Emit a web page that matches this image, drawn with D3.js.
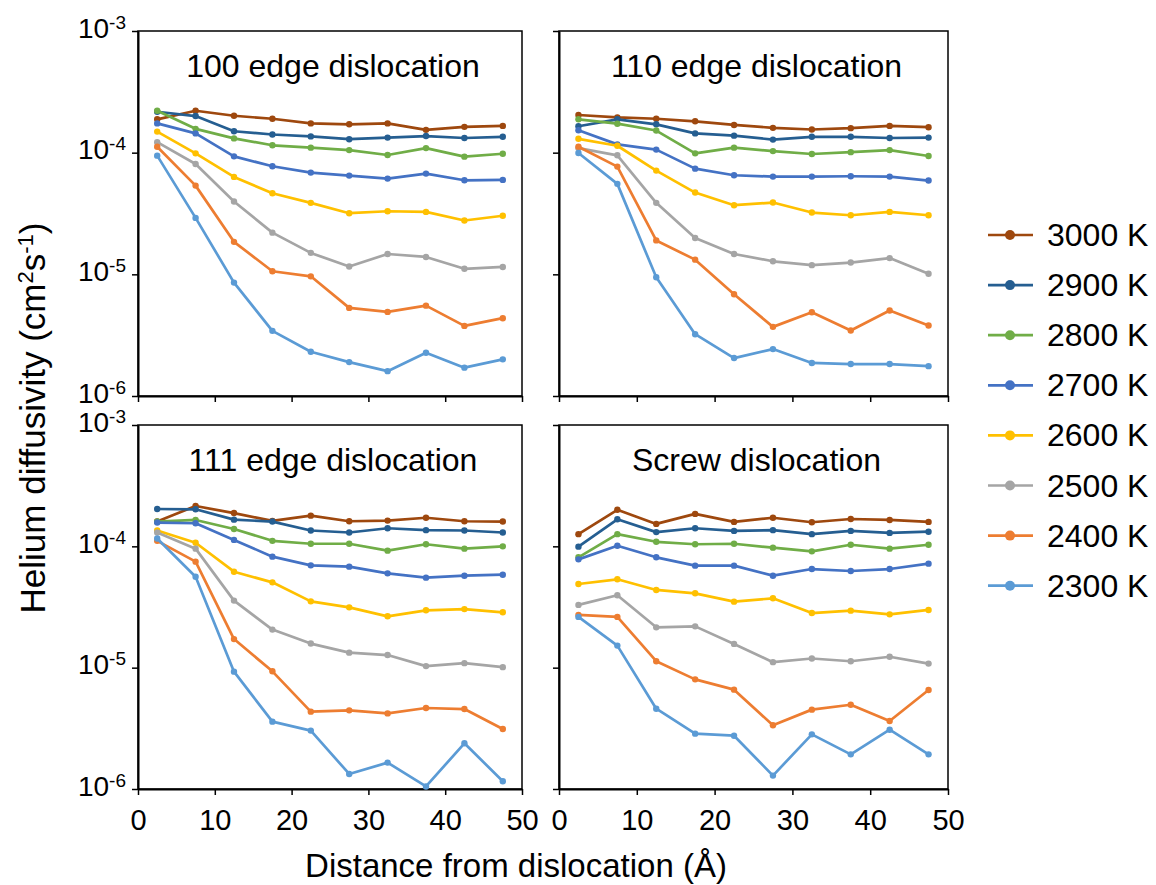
<!DOCTYPE html>
<html>
<head>
<meta charset="utf-8">
<script src="https://cdn.jsdelivr.net/npm/d3@7"></script>
<style>
  body { margin: 0; background: #fff; }
  svg text { font-family: "Liberation Sans", Arial, Helvetica, sans-serif; fill: #000; }
</style>
</head>
<body>
<div id="chart"></div>
<script>
// Data
const temperatures = ["3000 K", "2900 K", "2800 K", "2700 K", "2600 K", "2500 K", "2400 K", "2300 K"];
const colors = ["#9E480E", "#255E91", "#70AD47", "#4472C4", "#FFC000", "#A5A5A5", "#ED7D31", "#5B9BD5"];
const distances = [2.5, 7.5, 12.5, 17.5, 22.5, 27.5, 32.5, 37.5, 42.5, 47.5];
const panelTitles = ["100 edge dislocation", "110 edge dislocation", "111 edge dislocation", "Screw dislocation"];
const xTicks = [0, 10, 20, 30, 40, 50];
const yTicks = [1e-3, 1e-4, 1e-5, 1e-6];
const yTickExponents = ["-3", "-4", "-5", "-6"];

// one row per temperature (3000 K ... 2300 K)
const edge100 = [
  [1.88e-4, 2.21e-4, 2.01e-4, 1.90e-4, 1.74e-4, 1.71e-4, 1.74e-4, 1.54e-4, 1.63e-4, 1.66e-4],
  [2.17e-4, 2.00e-4, 1.50e-4, 1.41e-4, 1.36e-4, 1.29e-4, 1.33e-4, 1.37e-4, 1.32e-4, 1.35e-4],
  [2.21e-4, 1.57e-4, 1.31e-4, 1.15e-4, 1.10e-4, 1.05e-4, 9.57e-5, 1.09e-4, 9.27e-5, 9.80e-5],
  [1.74e-4, 1.44e-4, 9.33e-5, 7.73e-5, 6.86e-5, 6.48e-5, 6.12e-5, 6.73e-5, 5.93e-5, 5.97e-5],
  [1.49e-4, 9.87e-5, 6.32e-5, 4.64e-5, 3.87e-5, 3.18e-5, 3.30e-5, 3.26e-5, 2.77e-5, 3.03e-5],
  [1.22e-4, 8.07e-5, 3.97e-5, 2.20e-5, 1.50e-5, 1.16e-5, 1.47e-5, 1.39e-5, 1.11e-5, 1.15e-5],
  [1.12e-4, 5.36e-5, 1.85e-5, 1.06e-5, 9.63e-6, 5.30e-6, 4.91e-6, 5.53e-6, 3.77e-6, 4.36e-6],
  [9.45e-5, 2.91e-5, 8.55e-6, 3.43e-6, 2.31e-6, 1.90e-6, 1.60e-6, 2.27e-6, 1.71e-6, 2.00e-6]
];
const edge110 = [
  [2.04e-4, 1.95e-4, 1.90e-4, 1.81e-4, 1.69e-4, 1.60e-4, 1.55e-4, 1.59e-4, 1.66e-4, 1.62e-4],
  [1.65e-4, 1.88e-4, 1.71e-4, 1.44e-4, 1.38e-4, 1.28e-4, 1.35e-4, 1.35e-4, 1.32e-4, 1.33e-4],
  [1.88e-4, 1.73e-4, 1.52e-4, 9.87e-5, 1.10e-4, 1.03e-4, 9.75e-5, 1.01e-4, 1.05e-4, 9.39e-5],
  [1.53e-4, 1.17e-4, 1.06e-4, 7.39e-5, 6.52e-5, 6.36e-5, 6.36e-5, 6.40e-5, 6.36e-5, 5.90e-5],
  [1.30e-4, 1.14e-4, 7.12e-5, 4.70e-5, 3.70e-5, 3.89e-5, 3.22e-5, 3.06e-5, 3.26e-5, 3.06e-5],
  [1.09e-4, 9.51e-5, 3.87e-5, 1.99e-5, 1.47e-5, 1.28e-5, 1.19e-5, 1.25e-5, 1.36e-5, 1.01e-5],
  [1.12e-4, 7.68e-5, 1.90e-5, 1.32e-5, 6.86e-6, 3.70e-6, 4.88e-6, 3.45e-6, 5.04e-6, 3.80e-6],
  [9.94e-5, 5.54e-5, 9.45e-6, 3.22e-6, 2.05e-6, 2.43e-6, 1.87e-6, 1.83e-6, 1.83e-6, 1.76e-6]
];
const edge111 = [
  [1.60e-4, 2.15e-4, 1.88e-4, 1.62e-4, 1.79e-4, 1.61e-4, 1.63e-4, 1.72e-4, 1.61e-4, 1.60e-4],
  [2.03e-4, 2.02e-4, 1.66e-4, 1.60e-4, 1.35e-4, 1.30e-4, 1.41e-4, 1.36e-4, 1.35e-4, 1.30e-4],
  [1.60e-4, 1.65e-4, 1.39e-4, 1.11e-4, 1.05e-4, 1.05e-4, 9.21e-5, 1.04e-4, 9.57e-5, 1.00e-4],
  [1.57e-4, 1.55e-4, 1.13e-4, 8.22e-5, 6.97e-5, 6.80e-5, 5.99e-5, 5.52e-5, 5.73e-5, 5.84e-5],
  [1.35e-4, 1.07e-4, 6.18e-5, 5.05e-5, 3.52e-5, 3.14e-5, 2.65e-5, 2.97e-5, 3.04e-5, 2.86e-5],
  [1.30e-4, 9.57e-5, 3.57e-5, 2.06e-5, 1.58e-5, 1.33e-5, 1.27e-5, 1.03e-5, 1.09e-5, 1.01e-5],
  [1.11e-4, 7.48e-5, 1.72e-5, 9.33e-6, 4.34e-6, 4.45e-6, 4.20e-6, 4.65e-6, 4.56e-6, 3.12e-6],
  [1.16e-4, 5.62e-5, 9.27e-6, 3.59e-6, 3.03e-6, 1.33e-6, 1.65e-6, 1.05e-6, 2.38e-6, 1.16e-6]
];
const screw = [
  [1.26e-4, 2.00e-4, 1.53e-4, 1.85e-4, 1.59e-4, 1.72e-4, 1.58e-4, 1.68e-4, 1.65e-4, 1.59e-4],
  [9.94e-5, 1.67e-4, 1.31e-4, 1.41e-4, 1.34e-4, 1.36e-4, 1.26e-4, 1.34e-4, 1.29e-4, 1.32e-4],
  [8.12e-5, 1.26e-4, 1.09e-4, 1.04e-4, 1.05e-4, 9.75e-5, 9.09e-5, 1.03e-4, 9.57e-5, 1.03e-4],
  [7.81e-5, 1.01e-4, 8.12e-5, 6.93e-5, 6.93e-5, 5.73e-5, 6.50e-5, 6.26e-5, 6.50e-5, 7.20e-5],
  [4.89e-5, 5.35e-5, 4.37e-5, 4.10e-5, 3.50e-5, 3.73e-5, 2.82e-5, 2.95e-5, 2.75e-5, 2.99e-5],
  [3.29e-5, 3.95e-5, 2.15e-5, 2.19e-5, 1.57e-5, 1.11e-5, 1.19e-5, 1.13e-5, 1.23e-5, 1.08e-5],
  [2.72e-5, 2.62e-5, 1.13e-5, 8.01e-6, 6.59e-6, 3.35e-6, 4.51e-6, 4.95e-6, 3.63e-6, 6.55e-6],
  [2.62e-5, 1.52e-5, 4.59e-6, 2.86e-6, 2.75e-6, 1.29e-6, 2.82e-6, 1.93e-6, 3.08e-6, 1.93e-6]
];

const width = 1156;
const height = 885;

const svg = d3.select("#chart")
  .append("svg")
    .attr("width", width)
    .attr("height", height);

// panel boxes
const panels = [
  { title: panelTitles[0], data: edge100, x0: 138, x1: 522, y0: 31, y1: 396, xLabels: false, yLabels: true },
  { title: panelTitles[1], data: edge110, x0: 559, x1: 948, y0: 31, y1: 396, xLabels: false, yLabels: false },
  { title: panelTitles[2], data: edge111, x0: 138, x1: 522, y0: 425, y1: 789, xLabels: true, yLabels: true },
  { title: panelTitles[3], data: screw, x0: 559, x1: 948, y0: 425, y1: 789, xLabels: true, yLabels: false }
];

const drawPanel = (p) => {
  let x = d3.scaleLinear().domain([0, 50]).range([p.x0, p.x1]);
  let y = d3.scaleLog().domain([1e-6, 1e-3]).range([p.y1, p.y0]);

  let g = svg.append("g");

  // frame
  g.append("rect")
    .attr("x", p.x0)
    .attr("y", p.y0)
    .attr("width", p.x1 - p.x0)
    .attr("height", p.y1 - p.y0)
    .attr("fill", "none")
    .attr("stroke", "#000")
    .attr("stroke-width", 1.5);

  // x axis
  let xAxis = g.append("g")
    .attr("transform", `translate(0, ${p.y1})`)
    .call(d3.axisBottom(x).tickValues(xTicks).tickSize(6).tickSizeOuter(0).tickFormat(""));

  // y axis
  let yAxis = g.append("g")
    .attr("transform", `translate(${p.x0}, 0)`)
    .call(d3.axisLeft(y).tickValues(yTicks).tickSize(6).tickSizeOuter(0).tickFormat(""));

  [xAxis, yAxis].forEach(a => {
    a.select(".domain").attr("stroke", "#000").attr("stroke-width", 2);
    a.selectAll(".tick line").attr("stroke", "#000").attr("stroke-width", 1.5);
  });

  if (p.xLabels) {
    xAxis.selectAll(".tick")
      .append("text")
      .attr("y", 41)
      .attr("text-anchor", "middle")
      .attr("font-size", 29)
      .text(d => d);
  }

  if (p.yLabels) {
    let t = yAxis.selectAll(".tick")
      .append("text")
      .attr("x", -12)
      .attr("y", 6)
      .attr("text-anchor", "end")
      .attr("font-size", 28);
    t.append("tspan").text("10");
    t.append("tspan")
      .attr("dy", -9)
      .attr("font-size", 19)
      .text((d, i) => yTickExponents[i]);
  }

  // title
  g.append("text")
    .attr("x", (p.x0 + p.x1) / 2 + 3)
    .attr("y", p.y0 + 46)
    .attr("text-anchor", "middle")
    .attr("font-size", 32)
    .text(p.title);

  let line = d3.line()
    .x((d, i) => x(distances[i]))
    .y(d => y(d));

  p.data.forEach((series, s) => {
    g.append("path")
      .datum(series)
      .attr("d", line)
      .attr("fill", "none")
      .attr("stroke", colors[s])
      .attr("stroke-width", 2.7)
      .attr("stroke-linejoin", "round");

    g.selectAll(null)
      .data(series)
      .enter().append("circle")
        .attr("cx", (d, i) => x(distances[i]))
        .attr("cy", d => y(d))
        .attr("r", 3.2)
        .attr("fill", colors[s]);
  });
};

panels.forEach(drawPanel);

// Axis titles
svg.append("text")
  .attr("x", 516)
  .attr("y", 877)
  .attr("text-anchor", "middle")
  .attr("font-size", 33)
  .text("Distance from dislocation (Å)");

let yTitle = svg.append("text")
  .attr("transform", "translate(45, 418) rotate(-90)")
  .attr("text-anchor", "middle")
  .attr("font-size", 35);
yTitle.append("tspan").text("Helium diffusivity (cm");
yTitle.append("tspan").attr("dy", -12).attr("font-size", 22).text("2");
yTitle.append("tspan").attr("dy", 12).text("s");
yTitle.append("tspan").attr("dy", -12).attr("font-size", 22).text("-1");
yTitle.append("tspan").attr("dy", 12).text(")");

// Legend
let legend = svg.append("g")
  .selectAll(".legend")
  .data(temperatures)
  .enter().append("g")
    .attr("class", "legend")
    .attr("transform", (d, i) => `translate(0, ${235 + i * 50.1})`);

legend.append("line")
  .attr("x1", 988)
  .attr("x2", 1033)
  .attr("stroke", (d, i) => colors[i])
  .attr("stroke-width", 2.7);

legend.append("circle")
  .attr("cx", 1010)
  .attr("r", 5)
  .attr("fill", (d, i) => colors[i]);

legend.append("text")
  .attr("x", 1047)
  .attr("y", 11)
  .attr("font-size", 32)
  .text(d => d);
</script>
</body>
</html>
